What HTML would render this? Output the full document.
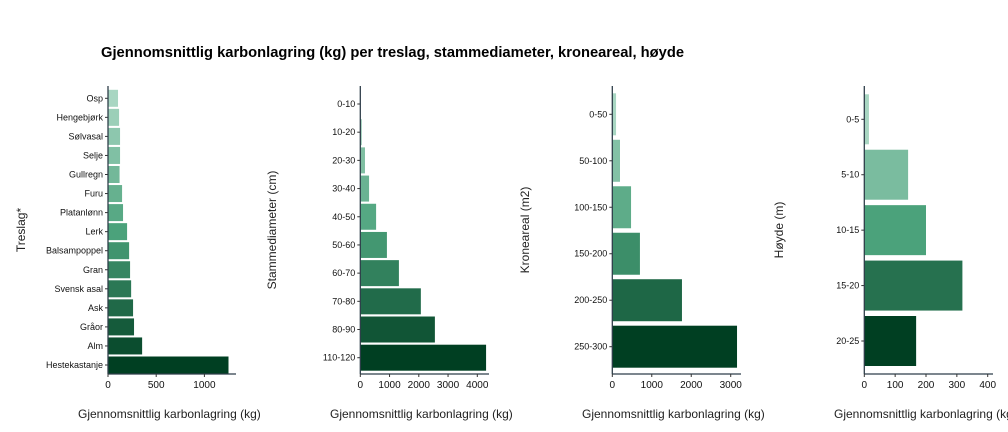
<!DOCTYPE html>
<html><head><meta charset="utf-8">
<style>
html,body{margin:0;padding:0;background:#fff;}
svg{display:block;font-family:"Liberation Sans",Arial,sans-serif;}
</style></head>
<body>
<svg id="chart" width="1008" height="432" viewBox="0 0 1008 432" xmlns="http://www.w3.org/2000/svg">
<text x="101" y="57" font-size="14.5" font-weight="bold" fill="#000" textLength="583" lengthAdjust="spacingAndGlyphs">Gjennomsnittlig karbonlagring (kg) per treslag, stammediameter, kroneareal, høyde</text>
</svg>
<script>
const speciesCats = ["Osp","Hengebjørk","Sølvasal","Selje","Gullregn","Furu","Platanlønn","Lerk","Balsampoppel","Gran","Svensk asal","Ask","Gråor","Alm","Hestekastanje"];
const speciesVals = [104,115,125,125,120,146,156,198,219,229,240,260,270,354,1250];
const speciesTicks = [0,500,1000];
const diamCats = ["0-10","10-20","20-30","30-40","40-50","50-60","60-70","70-80","80-90","110-120"];
const diamVals = [8,50,160,300,540,910,1320,2070,2550,4300];
const diamTicks = [0,1000,2000,3000,4000];
const crownCats = ["0-50","50-100","100-150","150-200","200-250","250-300"];
const crownVals = [95,195,475,700,1765,3160];
const crownTicks = [0,1000,2000,3000];
const heightCats = ["0-5","5-10","10-15","15-20","20-25"];
const heightVals = [15,142,200,318,168];
const heightTicks = [0,100,200,300,400];

const NS="http://www.w3.org/2000/svg";
const svg=document.getElementById('chart');
function mk(tag,attrs,parent){const e=document.createElementNS(NS,tag);for(const k in attrs)e.setAttribute(k,attrs[k]);(parent||svg).appendChild(e);return e;}
function hex(c){return [parseInt(c.slice(1,3),16),parseInt(c.slice(3,5),16),parseInt(c.slice(5,7),16)];}
const stops=[hex("#a8d6c2"),hex("#4ba27b"),hex("#003f22")];
function color(t){let a,b,u;if(t<0.5){a=stops[0];b=stops[1];u=t/0.5;}else{a=stops[1];b=stops[2];u=(t-0.5)/0.5;}
 return "rgb("+a.map((v,i)=>Math.round(v+(b[i]-v)*u)).join(",")+")";}

function panel(key,cats,vals,ticks,cfg){
 const g=mk('g',{});
 
 
 const x0=cfg.x0, xEnd=cfg.xEnd, yTop=86, yBot=374;
 const xs=v=>x0+(v-0)*cfg.scale;
 const n=cats.length;
 const step=(cfg.cLast-cfg.cFirst)/(n-1);
 const ys=i=>cfg.cFirst+i*step;
 cats.forEach((c,i)=>{
  const r=mk('rect',{x:x0,y:ys(i)-cfg.bh/2,width:Math.max(0,xs(vals[i])-x0),height:cfg.bh,fill:color(n>1?i/(n-1):0)},g);
  
  
  mk('line',{x1:x0-3,x2:x0,y1:ys(i),y2:ys(i),stroke:'#333','stroke-width':1},g);
  const t=mk('text',{x:x0-5,y:ys(i)+3,'font-size':9,'text-anchor':'end',fill:'#111'},g);
  t.textContent=c;
  
  
 });
 mk('line',{x1:x0,x2:x0,y1:yTop,y2:yBot,stroke:'#2f3f4a','stroke-width':1.3},g);
 mk('line',{x1:x0,x2:xEnd,y1:yBot,y2:yBot,stroke:'#2f3f4a','stroke-width':1.3},g);
 ticks.forEach(tv=>{
  mk('line',{x1:xs(tv),x2:xs(tv),y1:yBot,y2:yBot+3,stroke:'#333'},g);
  const t=mk('text',{x:xs(tv),y:yBot+14,'font-size':10,'text-anchor':'middle',fill:'#111'},g);
  t.textContent=tv;
  
  
 });
 const xt=mk('text',{x:cfg.xtX,y:418,'font-size':12,fill:'#222'},g);
 xt.textContent='Gjennomsnittlig karbonlagring (kg)';
 
 
 const yt=mk('text',{x:0,y:0,'font-size':12,'text-anchor':'middle',fill:'#222',transform:'translate('+cfg.ytX+',230) rotate(-90)'},g);
 yt.textContent=cfg.yTitle;
 
 
}
panel('treslag',speciesCats,speciesVals,speciesTicks,{x0:108,xEnd:236,scale:0.0964,cFirst:98.3,cLast:365,bh:17,xtX:78,ytX:25,yTitle:'Treslag*'});
panel('stammediameter',diamCats,diamVals,diamTicks,{x0:360.3,xEnd:489,scale:0.02925,cFirst:104,cLast:357.7,bh:26,xtX:330,ytX:276,yTitle:'Stammediameter (cm)'});
panel('kroneareal',crownCats,crownVals,crownTicks,{x0:612.3,xEnd:741,scale:0.03947,cFirst:114.3,cLast:346.7,bh:42,xtX:582,ytX:529,yTitle:'Kroneareal (m2)'});
panel('hoyde',heightCats,heightVals,heightTicks,{x0:864.3,xEnd:993,scale:0.3085,cFirst:119.3,cLast:341,bh:50,xtX:834,ytX:783,yTitle:'Høyde (m)'});
</script>
</body></html>
